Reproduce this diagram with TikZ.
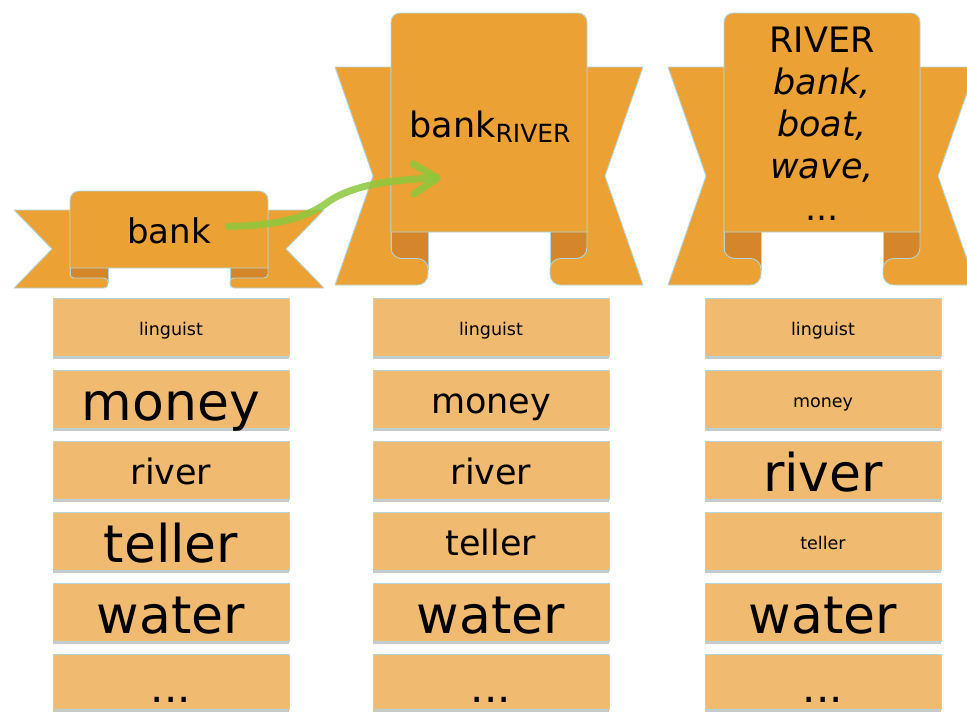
\documentclass[tikz,border=0pt]{standalone}
\usepackage{fontspec}
\setmainfont{DejaVu Sans}
\usetikzlibrary{arrows.meta,shadows}
\definecolor{ribbonorange}{RGB}{235,161,51}
\definecolor{ribbondark}{RGB}{214,134,42}
\definecolor{cardfill}{RGB}{240,186,112}
\definecolor{edgeblue}{RGB}{178,214,220}
\definecolor{arrowgreen}{RGB}{140,200,60}
\newcommand{\drawbanner}[9]{%
  \pgfmathsetmacro\bnM{(#4+#6)/2}%
  \pgfmathsetmacro\bnR{(#6-#4)/5}%
  \pgfmathsetmacro\bnW{(#5+#6)/2}%
  \filldraw[bannerdark] (#1,{#4-6}) rectangle ({#1+#9},{\bnM+\bnR});
  \filldraw[bannerdark] ({#2-#9},{#4-6}) rectangle (#2,{\bnM+\bnR});
  \filldraw[bannerwing] ({#1-#7},#5) -- (#1,#5) -- (#1,{\bnM-\bnR})
     arc[start angle=180,end angle=90,radius=\bnR] -- ({#1+#9-\bnR},\bnM)
     arc[start angle=270,end angle=360,radius=\bnR] -- ({#1+#9},{#6-\bnR})
     arc[start angle=0,end angle=90,radius=\bnR] -- ({#1-#7},#6)
     -- ({#1-#7+#8},\bnW) -- cycle;
  \filldraw[bannerwing] ({#2+#7},#5) -- (#2,#5) -- (#2,{\bnM-\bnR})
     arc[start angle=0,end angle=90,radius=\bnR] -- ({#2-#9+\bnR},\bnM)
     arc[start angle=270,end angle=180,radius=\bnR] -- ({#2-#9},{#6-\bnR})
     arc[start angle=180,end angle=90,radius=\bnR] -- ({#2+#7},#6)
     -- ({#2+#7-#8},\bnW) -- cycle;
  \filldraw[bannermain] (#1,#4) -- (#1,{#3+9})
     arc[start angle=180,end angle=270,radius=9] -- ({#2-9},#3)
     arc[start angle=270,end angle=360,radius=9] -- (#2,#4) -- cycle;
}
\tikzset{
  bannerdark/.style={fill=ribbondark,draw=edgeblue,line width=0.9pt},
  bannerwing/.style={fill=ribbonorange,draw=edgeblue,line width=0.9pt,line join=round},
  bannermain/.style={fill=ribbonorange,draw=edgeblue,line width=0.9pt},
  wordbox/.style={rectangle,fill=cardfill,draw=edgeblue,line width=0.8pt,
    minimum width=236pt,minimum height=58pt,inner sep=0pt,text depth=0pt,
    drop shadow={shadow xshift=0pt,shadow yshift=-3pt,opacity=0.3,fill=black!70}},
  fsmall/.style={font=\fontsize{17.5}{20}\selectfont,text height=16pt},
  fmed/.style={font=\fontsize{35}{40}\selectfont,text height=28pt},
  flarge/.style={font=\fontsize{52}{60}\selectfont,text height=42pt},
  fdots/.style={font=\fontsize{42}{50}\selectfont,text height=42pt,minimum height=55pt},
}
\begin{document}
\begin{tikzpicture}[x=1pt,y=-1pt]
\useasboundingbox (0,0) rectangle (967,713);
% banners
\drawbanner{70}{268}{191}{268}{210}{288}{56}{38}{38}
\drawbanner{391}{587}{13}{232}{67}{285}{56}{38}{37}
\drawbanner{724}{920}{13}{232}{67}{285}{56}{38}{37}
% banner texts
\node[anchor=base,font=\fontsize{34}{40}\selectfont] (bank) at (169,243) {bank};
\node[anchor=base,font=\fontsize{35}{40}\selectfont] (bankriver) at (490,137)
  {bank{\fontsize{25}{30}\selectfont\raisebox{-5pt}{RIVER}}};
\node[anchor=base,align=center,font=\fontsize{35}{42}\selectfont] (riverlist) at (822,220)
  {RIVER\\\itshape bank,\\\itshape boat,\\\itshape wave,\\...};
% arrow
\coordinate (arrowstart) at ([xshift=14pt,yshift=4pt]bank.east);
\coordinate (arrowend) at (441,178);
\draw[arrowgreen,draw opacity=0.85,line width=7pt,line cap=round,
  -{Straight Barb[length=24pt,width=30pt,line cap=round,line join=round]}]
  (arrowstart) .. controls (285,226) and (312,214) .. (328,202)
  .. controls (345,190) and (375,180) .. (arrowend);
% column 1
\node[wordbox,fsmall] (a1) at (171,327) {linguist};
\node[wordbox,flarge] (a2) at (171,399) {money};
\node[wordbox,fmed]   (a3) at (171,470) {river};
\node[wordbox,flarge] (a4) at (171,541) {teller};
\node[wordbox,flarge] (a5) at (171,612) {water};
\node[wordbox,fdots]  (a6) at (171,681.5) {...};
% column 2
\node[wordbox,fsmall] (b1) at (491,327) {linguist};
\node[wordbox,fmed]   (b2) at (491,399) {money};
\node[wordbox,fmed]   (b3) at (491,470) {river};
\node[wordbox,fmed]   (b4) at (491,541) {teller};
\node[wordbox,flarge] (b5) at (491,612) {water};
\node[wordbox,fdots]  (b6) at (491,681.5) {...};
% column 3
\node[wordbox,fsmall] (c1) at (823,327) {linguist};
\node[wordbox,fsmall] (c2) at (823,399) {money};
\node[wordbox,flarge] (c3) at (823,470) {river};
\node[wordbox,fsmall] (c4) at (823,541) {teller};
\node[wordbox,flarge] (c5) at (823,612) {water};
\node[wordbox,fdots]  (c6) at (823,681.5) {...};
\end{tikzpicture}
\end{document}
